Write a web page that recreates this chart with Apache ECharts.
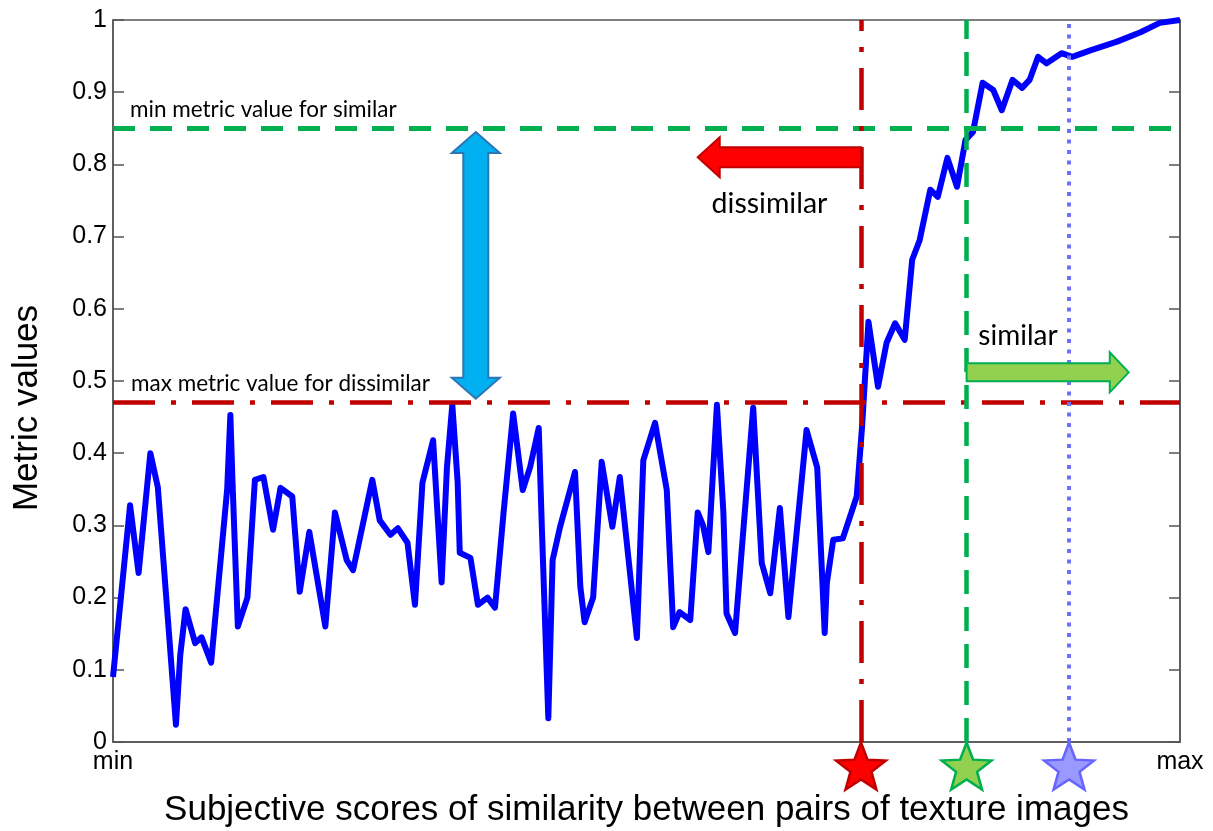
<!DOCTYPE html>
<html>
<head>
<meta charset="utf-8">
<script src="https://cdn.jsdelivr.net/npm/echarts@6/dist/echarts.min.js"></script>
<style>
html,body{margin:0;padding:0;background:#fff;}
#chart{width:1213px;height:831px;}
</style>
</head>
<body>
<div id="chart"></div>
<script>
// Subjective score position (0 = min, 100 = max)
const scores = [0.0,1.6,2.4,3.5,4.2,5.9,6.3,6.8,7.7,8.3,9.2,10.7,11.0,11.2,11.7,12.6,13.3,14.1,15.0,15.7,
  16.8,17.5,18.4,19.9,20.8,21.9,22.5,24.3,25.0,26.0,26.7,27.6,28.3,29.0,30.0,30.8,31.3,31.8,32.3,32.5,
  33.5,34.2,35.1,35.8,36.6,37.5,38.4,39.1,39.9,40.2,40.8,41.2,41.9,43.3,43.8,44.2,45.0,45.8,46.8,47.5,
  49.1,49.7,50.8,51.9,52.5,53.1,54.1,54.8,55.3,55.8,56.6,57.2,57.5,58.3,60.0,60.8,61.6,62.5,63.3,65.0,
  66.0,66.7,66.9,67.5,68.4,69.7,70.2,70.8,71.7,72.5,73.3,74.2,74.9,75.6,76.6,77.3,78.2,79.1,79.9,80.6,
  81.5,82.5,83.3,84.3,85.2,85.9,86.7,87.5,88.9,89.9,91.6,94.1,96.3,98.1,100.0];
// Metric values
const metric = [0.09,0.328,0.234,0.40,0.353,0.024,0.12,0.184,0.137,0.145,0.11,0.35,0.453,0.36,0.16,0.20,0.363,0.367,0.294,0.352,
  0.34,0.208,0.291,0.16,0.318,0.252,0.238,0.363,0.307,0.287,0.296,0.276,0.19,0.359,0.418,0.221,0.381,0.467,0.36,0.262,
  0.255,0.19,0.20,0.186,0.317,0.455,0.349,0.381,0.435,0.294,0.033,0.252,0.298,0.374,0.215,0.166,0.20,0.388,0.298,0.367,
  0.144,0.39,0.442,0.349,0.159,0.18,0.169,0.318,0.30,0.263,0.467,0.32,0.178,0.151,0.463,0.248,0.206,0.324,0.173,0.432,
  0.38,0.151,0.22,0.28,0.282,0.34,0.436,0.582,0.492,0.553,0.58,0.557,0.668,0.695,0.765,0.755,0.809,0.769,0.834,0.845,
  0.913,0.903,0.875,0.917,0.906,0.917,0.949,0.94,0.954,0.949,0.958,0.97,0.983,0.996,1.0];
// Score thresholds (stars): dissimilar limit, similar limit, reference
const thresholdScores = [70.1, 80.0, 89.6];
// Metric thresholds
const maxDissimilar = 0.474;
const minSimilar = 0.849;
// Tick labels
const xTickLabels = {0: 'min', 100: 'max'};
const thresholdTexts = ['max metric value for dissimilar', 'min metric value for similar'];
const regionTexts = ['dissimilar', 'similar'];
const axisTitles = ['Subjective scores of similarity between pairs of texture images', 'Metric values'];

const starPath = 'path://M100,0 L124.69,66.02 L195.11,69.1 L139.95,112.98 L158.78,180.9 L100,142 L41.22,180.9 L60.05,112.98 L4.89,69.1 L75.31,66.02 Z';
const starStyles = [
  {color: '#ff0000', borderColor: '#c00000'},
  {color: '#92d050', borderColor: '#00b050'},
  {color: '#9999ff', borderColor: '#6666ff'}
];

const chart = echarts.init(document.getElementById('chart'), null, {renderer: 'canvas'});
const labelFont = 'Liberation Sans, Arial, sans-serif';
const annFont = 'Lato, sans-serif';

const option = {
  animation: false,
  backgroundColor: '#ffffff',
  grid: {left: 113, top: 20, right: 33, bottom: 89, show: true, borderColor: '#555', borderWidth: 1.5,
    containLabel: false, outerBoundsMode: 'none'},
  xAxis: {
    type: 'value', min: 0, max: 100, interval: 100,
    name: axisTitles[0], nameLocation: 'middle', nameGap: 51,
    nameTextStyle: {fontFamily: labelFont, fontSize: 35, color: '#000'},
    axisLine: {show: true, lineStyle: {color: '#555', width: 1.5}},
    axisTick: {show: false},
    splitLine: {show: false},
    axisLabel: {margin: 8, fontFamily: labelFont, fontSize: 25, color: '#000',
      formatter: v => xTickLabels[v] || ''}
  },
  yAxis: [{
    type: 'value', min: 0, max: 1, interval: 0.1,
    axisLine: {show: true, lineStyle: {color: '#555', width: 1.5}},
    axisTick: {show: true, inside: true, length: 11, lineStyle: {color: '#555', width: 1.5}},
    splitLine: {show: false},
    axisLabel: {margin: 6, fontFamily: labelFont, fontSize: 25, color: '#000'}
  }, {
    type: 'value', min: 0, max: 1, interval: 0.1, position: 'right',
    axisLine: {show: true, lineStyle: {color: '#555', width: 1.5}},
    axisTick: {show: true, inside: true, length: 11, lineStyle: {color: '#555', width: 1.5}},
    splitLine: {show: false},
    axisLabel: {show: false}
  }],
  series: [{
    type: 'line',
    data: scores.map((s, i) => [s, metric[i]]),
    showSymbol: false, symbol: 'none',
    lineStyle: {color: '#0000ff', width: 6, join: 'round'},
    z: 3,
    markLine: {
      silent: true, symbol: 'none', animation: false,
      data: [
        {yAxis: maxDissimilar, lineStyle: {color: '#c00000', width: 4.5, type: [42, 16, 5, 16]},
          label: {show: true, position: 'insideStartTop', formatter: thresholdTexts[0], distance: [18, 7],
            fontFamily: annFont, fontSize: 22.5, color: '#000'}},
        {yAxis: minSimilar, lineStyle: {color: '#00b050', width: 5, type: [22, 15]},
          label: {show: true, position: 'insideStartTop', formatter: thresholdTexts[1], distance: [17, 7],
            fontFamily: annFont, fontSize: 22.5, color: '#000'}},
        {xAxis: thresholdScores[0], lineStyle: {color: '#c00000', width: 4.5, type: [42, 16, 5, 16]}, label: {show: false}},
        {xAxis: thresholdScores[1], lineStyle: {color: '#00b050', width: 4.5, type: [24, 13]}, label: {show: false}},
        {xAxis: thresholdScores[2], lineStyle: {color: '#7070ff', width: 4, type: [4, 6.5]}, label: {show: false}}
      ]
    }
  }, {
    type: 'scatter',
    clip: false,
    symbol: starPath,
    symbolSize: [50, 47],
    symbolOffset: [0, 24],
    z: 10,
    data: thresholdScores.map((s, i) => ({value: [s, 0],
      itemStyle: {color: starStyles[i].color, borderColor: starStyles[i].borderColor, borderWidth: 2.5, opacity: 1}}))
  }]
};
chart.setOption(option);

function px(x, y) { return chart.convertToPixel({gridIndex: 0}, [x, y]); }

function doubleArrow(cx, yTop, yBot, hw, hl, sw) {
  return [[cx, yTop], [cx + hw, yTop + hl], [cx + sw, yTop + hl], [cx + sw, yBot - hl], [cx + hw, yBot - hl],
    [cx, yBot], [cx - hw, yBot - hl], [cx - sw, yBot - hl], [cx - sw, yTop + hl], [cx - hw, yTop + hl]];
}
function hArrow(xTail, xTip, cy, hw, hl, sw) {
  const d = xTip < xTail ? 1 : -1;
  return [[xTip, cy], [xTip + d * hl, cy - hw], [xTip + d * hl, cy - sw], [xTail, cy - sw],
    [xTail, cy + sw], [xTip + d * hl, cy + sw], [xTip + d * hl, cy + hw]];
}

const bTop = px(34.0, minSimilar), bBot = px(34.0, maxDissimilar);
const rTail = px(thresholdScores[0], 0.81), rTip = px(54.8, 0.81);
const gTail = px(thresholdScores[1], 0.512), gTip = px(95.2, 0.512);
const dissPos = px(56.1, 0.745), simPos = px(81.1, 0.562);
const yTitlePos = [27, 408];

chart.setOption({
  graphic: [
    {type: 'polygon', z: 20, shape: {points: doubleArrow(bTop[0], bTop[1] + 3, bBot[1] - 1, 24, 21, 12.5)},
      style: {fill: '#00b0f0', stroke: '#2e75b6', lineWidth: 2}},
    {type: 'polygon', z: 20, shape: {points: hArrow(rTail[0], rTip[0], rTail[1], 20, 22, 10)},
      style: {fill: '#ff0000', stroke: '#c00000', lineWidth: 2}},
    {type: 'polygon', z: 20, shape: {points: hArrow(gTail[0], gTip[0], gTail[1], 20, 19, 9)},
      style: {fill: '#92d050', stroke: '#00b050', lineWidth: 2}},
    {type: 'text', z: 20, x: dissPos[0], y: dissPos[1],
      style: {text: regionTexts[0], font: '28.5px Lato, sans-serif', fill: '#000', textAlign: 'left', textVerticalAlign: 'middle'}},
    {type: 'text', z: 20, x: simPos[0], y: simPos[1],
      style: {text: regionTexts[1], font: '28px Lato, sans-serif', fill: '#000', textAlign: 'left', textVerticalAlign: 'middle'}},
    {type: 'text', z: 20, x: yTitlePos[0], y: yTitlePos[1], rotation: Math.PI / 2,
      style: {text: axisTitles[1], font: '35px "Liberation Sans", Arial, sans-serif', fill: '#000', textAlign: 'center', textVerticalAlign: 'middle'}}
  ]
});
</script>
</body>
</html>
